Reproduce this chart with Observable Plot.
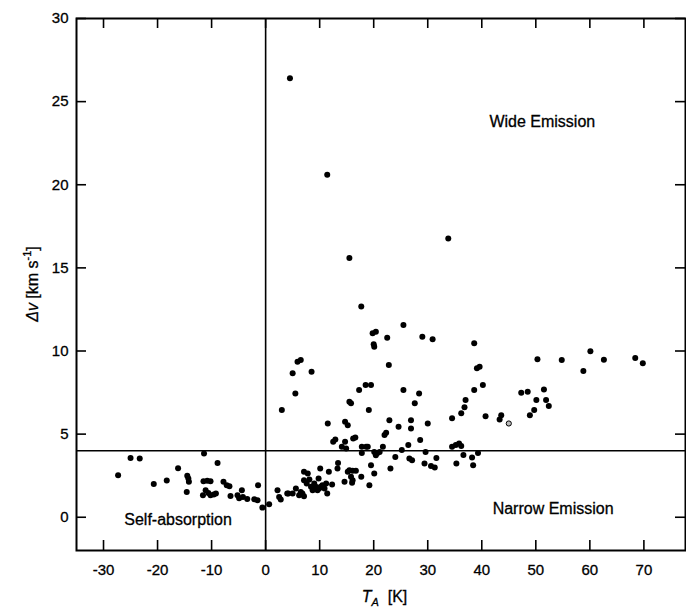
<!DOCTYPE html>
<html><head><meta charset="utf-8">
<script src="https://cdn.jsdelivr.net/npm/d3@7"></script>
<script src="https://cdn.jsdelivr.net/npm/@observablehq/plot@0.6"></script>
<style>
body{margin:0;background:#fff;}
#chart svg{display:block;background:#fff;font-family:'Liberation Sans', Arial, Helvetica, sans-serif;}
#chart svg text{stroke:black;stroke-width:0.3px;}
</style></head><body><div id="chart"></div>
<script>
// Tick values
const xTicks = [-30,-20,-10,0,10,20,30,40,50,60,70];
const yTicks = [0,5,10,15,20,25,30];
// Axis extents
const xDomain = [-35, 77.7];
const yDomain = [-2, 30];
// Threshold lines
const tZero = [0];
const dvThreshold = [4];

// Self-absorption points (T_A < 0)
const taSelf = [-27.3,-25.0,-23.3,-20.7,-18.3,-16.2,-14.5,-14.3,-14.2,-14.6,-11.4,-8.9,-11.5,-10.8,-10.2,-11.6,-11.1,-10.6,-10.2,-9.6,-9.2,-7.8,-7.2,-6.7,-6.5,-5.2,-4.9,-4.4,-4.2,-3.4,-2.1,-1.5,-1.4,-0.6];
const dvSelf = [2.53,3.57,3.54,2.0,2.21,2.95,2.49,2.33,2.13,1.52,3.83,3.27,2.17,2.2,2.17,1.33,1.63,1.46,1.33,1.37,1.43,2.13,1.93,1.87,1.28,1.33,1.14,1.63,1.22,1.1,1.08,1.02,1.93,0.58];

// Narrow emission points
const taNarrow = [0.65,2.2,2.5,2.8,4.0,4.2,5.0,5.6,6.2,6.5,6.8,7.1,7.1,7.8,7.1,7.6,8.1,8.4,8.7,9.0,9.3,9.6,9.9,10.2,10.5,10.9,11.2,11.4,9.8,10.1,11.7,12.3,13.3,13.4,14.6,15.2,15.5,16.1,16.7,15.8,16.1,16.0,17.7,19.2,17.8,19.5,20.1,20.1,20.4,20.7,21.1,23.1,24.0,25.2,26.6,27.1,29.6,29.4,30.6,31.3,31.6,35.3,36.6,38.4,38.2,39.3];
const dvNarrow = [0.78,1.63,1.22,1.07,1.43,1.43,1.43,1.73,1.33,1.52,1.43,1.27,2.73,2.63,2.23,2.03,2.27,1.83,1.63,2.03,1.83,1.63,1.73,1.83,1.93,1.73,2.03,1.43,2.33,2.93,2.73,1.97,2.93,3.27,2.13,2.73,2.83,2.79,2.79,2.43,2.23,2.07,2.43,1.93,3.87,3.13,2.63,3.93,3.73,3.87,3.93,2.93,3.63,4.04,3.54,3.43,3.93,3.23,3.09,2.99,3.57,3.23,3.75,3.13,3.6,3.87];

// Wide emission points
const taWide = [12.5,12.9,14.1,14.9,14.7,16.2,16.6,17.8,18.6,18.9,21.7,26.4,28.6,34.5,35.2,35.8,36.2,
  3.0,5.5,11.5,14.7,15.2,15.5,15.8,17.3,18.5,19.5,19.1,22.0,22.3,22.9,24.6,25.5,26.9,26.9,27.6,28.4,30.0,34.5,5.9,6.5,5.0,8.5,22.8,38.6,37.0,36.8,36.2,40.7,40.2,39.1,39.6,43.3,43.6,47.3,48.5,50.1,49.7,48.9,50.3,51.5,51.9,52.4,54.8,58.8,60.1,62.6,68.4,69.8,
  4.5,11.4,33.8,15.5,17.7,19.8,20.4,20.1,20.0,22.5,25.5,29.0,30.9,38.6];
const dvWide = [4.54,4.68,4.24,4.14,4.54,4.74,4.8,4.24,4.24,4.24,4.24,4.34,4.64,4.24,4.34,4.44,4.28,
  6.45,7.45,5.64,5.74,5.54,6.95,6.85,7.65,7.95,7.95,6.45,4.94,5.08,5.84,5.44,7.65,5.84,5.34,6.85,7.45,5.64,5.95,9.36,9.46,8.66,8.75,9.16,7.65,7.05,6.61,6.25,6.08,7.95,8.96,9.05,5.88,6.14,7.49,7.55,7.05,6.45,6.14,9.5,7.69,7.05,6.69,9.46,8.8,9.98,9.48,9.58,9.26,
  26.4,20.6,16.77,15.6,12.67,11.07,11.16,10.26,10.4,10.8,11.57,10.86,10.7,10.46];

// Open (hollow) point
const taOpen = [45.0];
const dvOpen = [5.64];

// Region labels
const regionNames = ["Wide Emission","Narrow Emission","Self-absorption"];
const regionTa = [51.2,53.2,-16.2];
const regionDv = [23.8,0.53,-0.13];

const pairs = (a,b) => a.map((t,i)=>({t, v:b[i]}));
const points = [...pairs(taSelf,dvSelf), ...pairs(taNarrow,dvNarrow), ...pairs(taWide,dvWide)];
const open = pairs(taOpen,dvOpen);
const regions = regionNames.map((n,i)=>({n, t:regionTa[i], v:regionDv[i]}));

const W = 686, H = 610, mL = 76, mR = 1, mT = 18, mB = 60;
const font = "'Liberation Sans', Arial, Helvetica, sans-serif";
const fmt = d => String(d);
const TL = 10; // tick length in px
const kx = (xDomain[1] - xDomain[0]) / (W - mL - mR); // units per px
const ky = (yDomain[1] - yDomain[0]) / (H - mT - mB);

const chart = Plot.plot({
  width: W, height: H,
  marginLeft: mL, marginRight: mR, marginTop: mT, marginBottom: mB,
  x: {domain: xDomain, label: null},
  y: {domain: yDomain, label: null},
  marks: [
    Plot.frame({stroke: "black", strokeWidth: 2}),
    Plot.ruleY(dvThreshold, {y: d => d, stroke: "black", strokeWidth: 1.6}),
    Plot.ruleX(tZero, {x: d => d, stroke: "black", strokeWidth: 1.6}),
    // inward ticks on all four sides
    Plot.ruleX(xTicks, {x: d => d, y1: yDomain[0], y2: yDomain[0] + TL * ky, stroke: "black", strokeWidth: 1.6}),
    Plot.ruleX(xTicks, {x: d => d, y1: yDomain[1], y2: yDomain[1] - TL * ky, stroke: "black", strokeWidth: 1.6}),
    Plot.ruleY(yTicks, {y: d => d, x1: xDomain[0], x2: xDomain[0] + TL * kx, stroke: "black", strokeWidth: 1.6}),
    Plot.ruleY(yTicks, {y: d => d, x1: xDomain[1], x2: xDomain[1] - TL * kx, stroke: "black", strokeWidth: 1.6}),
    // tick labels
    Plot.axisX(xTicks, {anchor: "bottom", tickSize: 0, tickPadding: 14, tickFormat: fmt, fontSize: 15}),
    Plot.axisY(yTicks, {anchor: "left", tickSize: 0, tickPadding: 8, tickFormat: fmt, fontSize: 15}),
    Plot.dot(points, {x: "t", y: "v", r: 3, fill: "black", stroke: "none"}),
    Plot.dot(open, {x: "t", y: "v", r: 2.6, fill: "#bbb", stroke: "black", strokeWidth: 1}),
    Plot.text(regions, {x: "t", y: "v", text: "n", fontSize: 16, fill: "black"})
  ]
});

const svg = d3.select(chart);
svg.selectAll("[aria-label='x-axis tick-label'] text, [aria-label='y-axis tick-label'] text").style("letter-spacing","2px");
// y axis title
const cy = mT + (H - mT - mB) / 2;
const yl = svg.append("text")
  .attr("transform", `translate(38,${cy}) rotate(-90)`)
  .attr("text-anchor", "middle")
  .attr("font-family", font).attr("font-size", 16).attr("fill", "black");
yl.append("tspan").attr("font-style", "italic").text("Δv");
yl.append("tspan").text(" [km s");
yl.append("tspan").attr("font-size", 11).attr("dy", -7).text("-1");
yl.append("tspan").attr("dy", 7).text("]");
// x axis title
const cx = mL + (W - mL - mR) / 2 + 4;
const xl = svg.append("text")
  .attr("x", cx).attr("y", H - 8)
  .attr("text-anchor", "middle")
  .attr("font-family", font).attr("font-size", 16).attr("fill", "black");
xl.append("tspan").attr("font-style", "italic").text("T");
xl.append("tspan").attr("font-style", "italic").attr("font-size", 11).attr("dy", 4).text("A");
xl.append("tspan").attr("dy", -4).text("  [K]");

document.getElementById("chart").appendChild(chart);
</script>
</body></html>
